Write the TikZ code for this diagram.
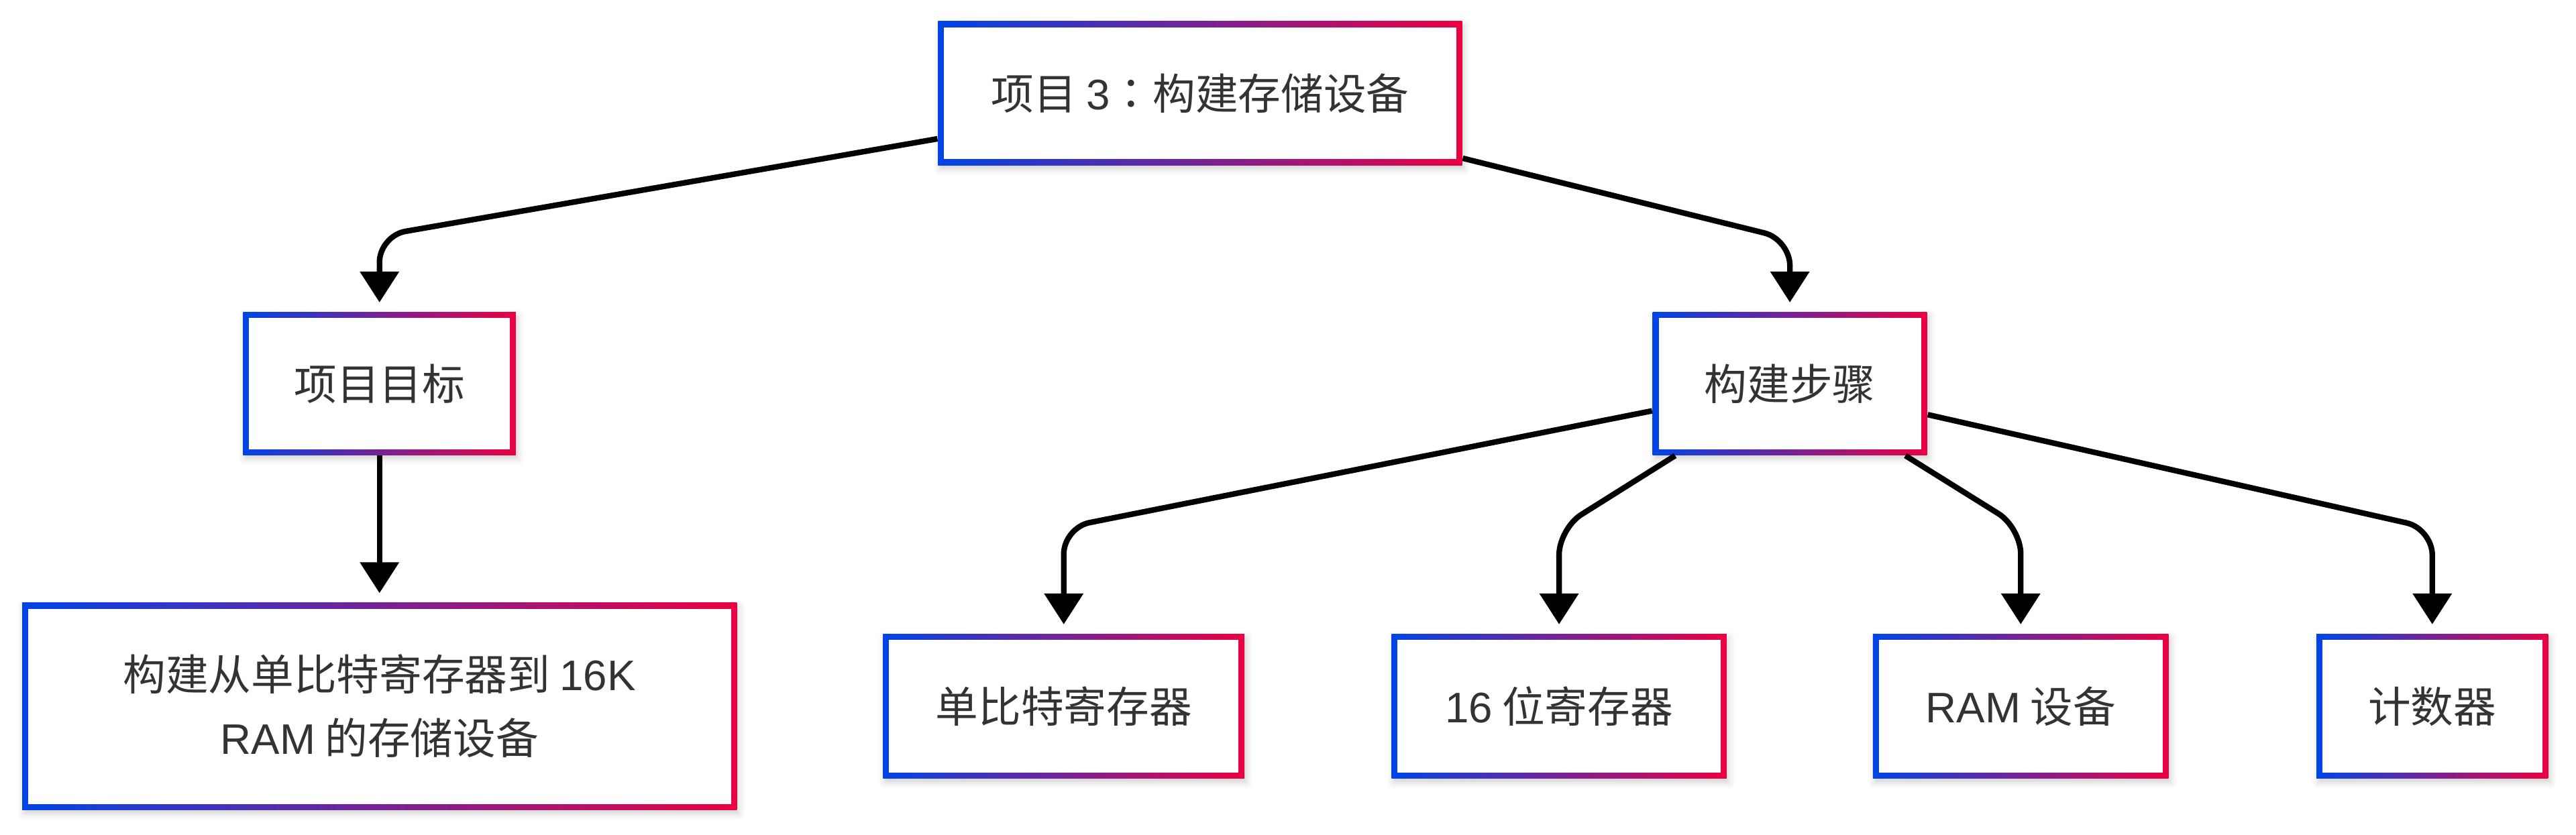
\documentclass[tikz,border=0pt]{standalone}
\usepackage{fontspec}
\setmainfont{Noto Sans CJK SC}
\newfontfamily\latinfont{Liberation Sans}
\newfontfamily\punctfont{Noto Sans CJK TC}
\usetikzlibrary{arrows.meta, shadows.blur}

\definecolor{gradblue}{HTML}{0044E8}
\definecolor{gradred}{HTML}{EC0042}
\definecolor{labelgray}{HTML}{333333}

\begin{document}
\begin{tikzpicture}[
        x=0.5pt, y=-0.5pt,     % one unit = one pixel of the layout, y grows downwards
        box/.style={rectangle, inner sep=0pt, align=center,
            left color=gradblue, right color=gradred, text=labelgray,
            font=\fontsize{13pt}{19.4pt}\selectfont,
            blur shadow={shadow xshift=0.6pt, shadow yshift=-1.2pt, shadow opacity=18, shadow blur radius=2pt},
            path picture={\fill[white] ([xshift=1.8pt,yshift=-1.8pt]path picture bounding box.north west)
                rectangle ([xshift=-1.8pt,yshift=1.8pt]path picture bounding box.south east);}},
        arrowline/.style={draw, line width=1.7pt, rounded corners=8pt, shorten >=2.75pt,
            -{Triangle[width=11.6pt,length=9.4pt]}}
    ]

    \useasboundingbox (0,0) rectangle (1568,508);

    % Nodes
    \node[box, minimum width=159.5pt, minimum height=43.75pt] (project) at (730.5,56.75) {项目 {\latinfont 3}{\punctfont ：}构建存储设备};
    \node[box, minimum width=83pt, minimum height=43.5pt] (goal) at (231,233.5) {项目目标};
    \node[box, minimum width=83.5pt, minimum height=43.5pt] (steps) at (1089.5,233.5) {构建步骤};
    \node[box, minimum width=217.5pt, minimum height=63pt] (target) at (231,430) {构建从单比特寄存器到 {\latinfont 16K}\\{\latinfont RAM} 的存储设备};
    \node[box, minimum width=110pt, minimum height=44pt] (bitreg) at (647.5,430) {单比特寄存器};
    \node[box, minimum width=102pt, minimum height=44pt] (wordreg) at (949,430) {{\latinfont 16} 位寄存器};
    \node[box, minimum width=90pt, minimum height=44pt] (ram) at (1230,430) {{\latinfont RAM} 设备};
    \node[box, minimum width=70.5pt, minimum height=44pt] (counter) at (1480.5,430) {计数器};

    % Arrows
    \path[arrowline] (project) -- (231,143.6) -- (goal);
    \path[arrowline] (project) -- (1089.5,145.7) -- (steps);
    \path[arrowline] (goal) -- (target);
    \path[arrowline] (steps) -- (647.5,321.3) -- (bitreg);
    \path[arrowline] (steps) -- (949,321.8) -- (wordreg);
    \path[arrowline] (steps) -- (1230,321.2) -- (ram);
    \path[arrowline] (steps) -- (1480.5,321.9) -- (counter);

\end{tikzpicture}
\end{document}
